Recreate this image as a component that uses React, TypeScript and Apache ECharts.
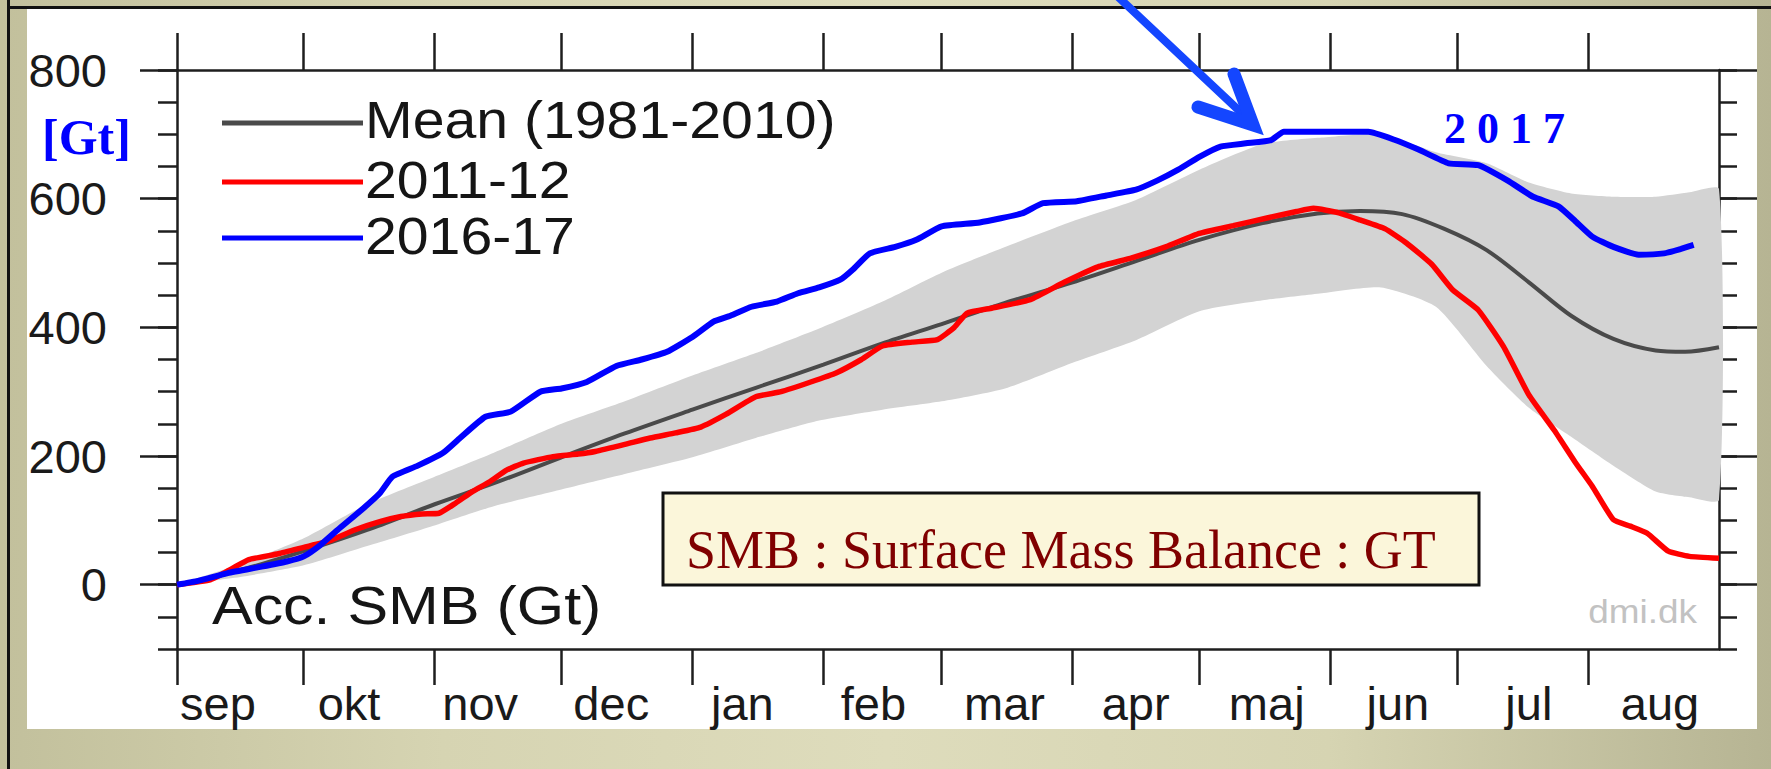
import React, { useEffect, useRef } from "react";
import * as echarts from "echarts";

// ---- axis definitions ----
const monthNames = ["sep", "okt", "nov", "dec", "jan", "feb", "mar", "apr", "maj", "jun", "jul", "aug"];
const monthStartDays = [0, 30, 61, 91, 122, 153, 181, 212, 242, 273, 303, 334];
const yMajorTicks = [0, 200, 400, 600, 800];
const legendNames = ["Mean (1981-2010)", "2011-12", "2016-17"];

// ---- series (day since 1 Sep, accumulated SMB in Gt) ----
const meanDays = [0, 10, 20, 30, 45, 61, 76, 91, 106, 122, 137, 153, 167, 181, 196, 212, 227, 242, 257, 270, 280, 290, 300, 310, 320, 330, 340, 350, 357, 365];
const meanVals = [0, 14, 32, 52, 85, 125, 160, 198, 235, 272, 306, 342, 375, 405, 438, 470, 503, 536, 562, 577, 581, 576, 553, 520, 470, 418, 382, 364, 362, 369];

const redDays = [0, 8, 13, 17, 24, 30, 36, 42, 48, 53, 58, 62, 66, 70, 74, 78, 82, 89, 95, 99, 106, 112, 118, 124, 130, 137, 143, 150, 156, 162, 167, 174, 180, 184, 187, 193, 202, 210, 218, 226, 234, 242, 250, 258, 265, 269, 275, 280, 286, 291, 297, 302, 308, 314, 320, 326, 331, 335, 340, 344, 348, 353, 358, 365];
const redVals = [0, 8, 25, 39, 48, 58, 68, 85, 98, 106, 110, 111, 127, 145, 160, 178, 189, 199, 203, 207, 218, 228, 236, 245, 265, 292, 300, 315, 329, 350, 371, 377, 381, 400, 422, 430, 443, 470, 494, 508, 525, 546, 558, 570, 580, 585, 578, 567, 553, 531, 498, 458, 427, 370, 295, 240, 190, 153, 101, 91, 80, 52, 44, 41];

const blueDays = [0, 5, 12, 20, 26, 30, 34, 38, 44, 48, 51, 57, 63, 67, 73, 79, 86, 91, 97, 104, 110, 116, 122, 127, 131, 136, 142, 147, 152, 157, 160, 164, 170, 175, 181, 190, 200, 205, 213, 220, 227, 232, 237, 242, 247, 253, 259, 262, 270, 282, 288, 294, 301, 308, 315, 321, 327, 331, 335, 340, 346, 352, 356, 359];
const blueVals = [0, 6, 18, 28, 36, 44, 62, 85, 118, 142, 168, 185, 205, 228, 261, 269, 300, 305, 315, 340, 350, 362, 385, 409, 418, 432, 440, 453, 462, 474, 490, 515, 525, 536, 557, 563, 577, 593, 596, 605, 614, 628, 645, 665, 681, 686, 691, 704, 704, 704, 692, 676, 655, 652, 628, 603, 588, 565, 541, 525, 513, 515, 522, 528];

const bandDays = [0, 15, 30, 45, 60, 75, 91, 106, 122, 137, 152, 167, 181, 196, 212, 227, 242, 257, 271, 285, 298, 310, 320, 330, 340, 350, 358, 365];
const bandHigh = [0, 32, 72, 125, 165, 205, 250, 285, 325, 360, 398, 440, 485, 525, 565, 598, 645, 685, 695, 700, 672, 655, 625, 608, 603, 603, 610, 615];
const bandLow = [0, 12, 30, 60, 90, 122, 148, 172, 198, 228, 255, 272, 285, 305, 345, 380, 425, 442, 453, 462, 432, 340, 275, 230, 185, 145, 136, 132];

const pairs = (xs: number[], ys: number[]) => xs.map((x, i) => [x, ys[i]]);

const LABEL0 = 9.7;
const LABEL_STEP = 31.03;
const labelDays = monthNames.map((_, i) => LABEL0 + i * LABEL_STEP);

const AX = "#1e1e1e";
const FONT = "Liberation Sans";

export default function App() {
  const ref = useRef<HTMLDivElement>(null);

  useEffect(() => {
    const chart = echarts.init(ref.current as HTMLDivElement, null, { renderer: "svg" });
    const axisLine = { show: true, onZero: false, lineStyle: { color: AX, width: 2.5 } };
    const noLine = { show: false, onZero: false };
    const tickStyle = { color: AX, width: 2.5 };

    const option: any = {
      animation: false,
      backgroundColor: "transparent",
      grid: { left: 177, top: 70, width: 1542, height: 579, containLabel: false, outerBoundsMode: "none" },
      xAxis: [
        {
          type: "value", position: "bottom", min: 0, max: 365,
          axisLine,
          axisTick: { show: true, inside: false, length: 36, customValues: monthStartDays, lineStyle: tickStyle },
          axisLabel: {
            show: true, customValues: labelDays, margin: 31, fontSize: 47, fontFamily: FONT, color: "#1a1a1a",
            formatter: (v: number) => monthNames[Math.round((v - LABEL0) / LABEL_STEP)] ?? "",
          },
          splitLine: { show: false },
        },
        {
          type: "value", position: "top", min: 0, max: 365,
          axisLine,
          axisTick: { show: true, inside: false, length: 37, customValues: monthStartDays, lineStyle: tickStyle },
          axisLabel: { show: false },
          splitLine: { show: false },
        },
      ],
      yAxis: [
        {
          type: "value", position: "left", min: -100, max: 800,
          axisLine,
          axisTick: { show: true, inside: false, length: 37, customValues: yMajorTicks, lineStyle: tickStyle },
          axisLabel: { show: true, customValues: yMajorTicks, margin: 70, fontSize: 47, fontFamily: FONT, color: "#1a1a1a" },
          splitLine: { show: false },
        },
        {
          type: "value", position: "left", min: -100, max: 800, interval: 50,
          axisLine: noLine,
          axisTick: { show: true, inside: false, length: 19, lineStyle: tickStyle },
          axisLabel: { show: false },
          splitLine: { show: false },
        },
        {
          type: "value", position: "right", min: -100, max: 800,
          axisLine,
          axisTick: { show: true, inside: false, length: 38, customValues: yMajorTicks, lineStyle: tickStyle },
          axisLabel: { show: false },
          splitLine: { show: false },
        },
        {
          type: "value", position: "right", min: -100, max: 800, interval: 50,
          axisLine: noLine,
          axisTick: { show: true, inside: false, length: 18, lineStyle: tickStyle },
          axisLabel: { show: false },
          splitLine: { show: false },
        },
      ],
      series: [
        {
          type: "custom",
          name: "band",
          silent: true,
          z: 1,
          xAxisIndex: 0,
          yAxisIndex: 0,
          data: bandDays.map((d, i) => [d, bandLow[i], bandHigh[i]]),
          encode: { x: 0, y: [1, 2] },
          renderItem: (params: any, api: any) => {
            if (params.dataIndex !== 0) return null;
            const pts: number[][] = [];
            for (let i = 0; i < bandDays.length; i++) pts.push(api.coord([bandDays[i], bandHigh[i]]));
            for (let i = bandDays.length - 1; i >= 0; i--) pts.push(api.coord([bandDays[i], bandLow[i]]));
            return { type: "polygon", shape: { points: pts, smooth: 0.2 }, style: { fill: "#d3d3d3" } };
          },
        },
        {
          type: "line", name: legendNames[0], data: pairs(meanDays, meanVals), showSymbol: false, symbol: "none",
          smooth: 0.3, lineStyle: { color: "#4a4a4a", width: 4 }, z: 3,
        },
        {
          type: "line", name: legendNames[1], data: pairs(redDays, redVals), showSymbol: false, symbol: "none",
          smooth: 0.15, lineStyle: { color: "#ff0000", width: 5.5 }, z: 4,
        },
        {
          type: "line", name: legendNames[2], data: pairs(blueDays, blueVals), showSymbol: false, symbol: "none",
          smooth: 0.15, lineStyle: { color: "#0000ff", width: 6 }, z: 5,
        },
      ],
      graphic: [
        // legend
        { type: "line", z: 50, shape: { x1: 222, y1: 123, x2: 363, y2: 123 }, style: { stroke: "#4a4a4a", lineWidth: 5 } },
        { type: "line", z: 50, shape: { x1: 222, y1: 182, x2: 363, y2: 182 }, style: { stroke: "#ff0000", lineWidth: 5 } },
        { type: "line", z: 50, shape: { x1: 222, y1: 238, x2: 363, y2: 238 }, style: { stroke: "#0000ff", lineWidth: 5 } },
        { type: "text", z: 50, x: 365, y: 120, scaleX: 1.1, style: { text: legendNames[0], font: `52px "${FONT}"`, fill: "#151515", align: "left", verticalAlign: "middle", textAlign: "left", textVerticalAlign: "middle" } },
        { type: "text", z: 50, x: 365, y: 180, scaleX: 1.1, style: { text: legendNames[1], font: `52px "${FONT}"`, fill: "#151515", align: "left", verticalAlign: "middle", textAlign: "left", textVerticalAlign: "middle" } },
        { type: "text", z: 50, x: 365, y: 236, scaleX: 1.1, style: { text: legendNames[2], font: `52px "${FONT}"`, fill: "#151515", align: "left", verticalAlign: "middle", textAlign: "left", textVerticalAlign: "middle" } },
        // inner title
        { type: "text", z: 50, x: 212, y: 605, scaleX: 1.15, style: { text: "Acc. SMB (Gt)", font: `53px "${FONT}"`, fill: "#151515", align: "left", verticalAlign: "middle", textAlign: "left", textVerticalAlign: "middle" } },
        // watermark
        { type: "text", z: 50, x: 1697, y: 611, scaleX: 1.12, style: { text: "dmi.dk", font: `33px "${FONT}"`, fill: "#c2c2c2", align: "right", verticalAlign: "middle", textAlign: "right", textVerticalAlign: "middle" } },
        // unit
        { type: "text", z: 50, x: 42, y: 137, style: { text: "[Gt]", font: `bold 50px "Liberation Serif"`, fill: "#0000ff", align: "left", verticalAlign: "middle", textAlign: "left", textVerticalAlign: "middle" } },
        // year annotation
        { type: "text", z: 50, x: 1444, y: 128, style: { text: "2 0 1 7", font: `bold 44px "Liberation Serif"`, fill: "#0000ff", align: "left", verticalAlign: "middle", textAlign: "left", textVerticalAlign: "middle" } },
        // definition box
        { type: "rect", z: 50, shape: { x: 663, y: 493, width: 816, height: 92 }, style: { fill: "#fbf6da", stroke: "#111111", lineWidth: 3 } },
        { type: "text", z: 51, x: 686, y: 550, style: { text: "SMB : Surface Mass Balance : GT", font: `54px "Liberation Serif"`, fill: "#800000", align: "left", verticalAlign: "middle", textAlign: "left", textVerticalAlign: "middle" } },
        // arrow
        { type: "line", z: 60, shape: { x1: 1115, y1: -6, x2: 1248, y2: 119 }, style: { stroke: "#1446ff", lineWidth: 8, lineCap: "round" } },
        { type: "polyline", z: 60, shape: { points: [[1234, 74], [1253, 125], [1198, 107]] }, style: { stroke: "#1446ff", lineWidth: 13, lineCap: "round", lineJoin: "miter", fill: null } },
      ],
    };

    chart.setOption(option);
    return () => chart.dispose();
  }, []);

  return (
    <div
      style={{
        position: "fixed", left: 0, top: 0, width: 1771, height: 769, overflow: "hidden",
        background: "linear-gradient(90deg, #c2c09c 0%, #d6d4b2 25%, #dedcbc 50%, #d6d4b2 75%, #b6b493 100%)",
      }}
    >
      <div style={{ position: "absolute", left: 27, top: 9, width: 1730, height: 720, background: "#ffffff" }} />
      <div style={{ position: "absolute", left: 7, top: 0, width: 3, height: 769, background: "#111111" }} />
      <div style={{ position: "absolute", left: 7, top: 6, width: 1764, height: 3, background: "#111111" }} />
      <div ref={ref} style={{ position: "absolute", left: 0, top: 0, width: 1771, height: 769 }} />
    </div>
  );
}
